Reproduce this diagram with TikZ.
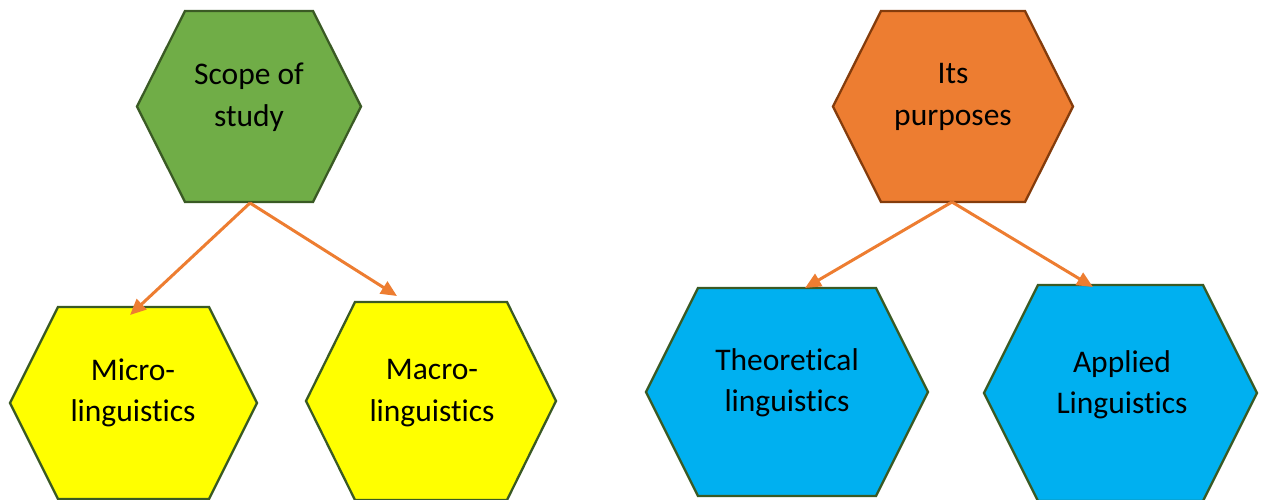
\documentclass[tikz,border=0pt]{standalone}
\usepackage{fontspec}
\setmainfont{Carlito}[RawFeature={-liga}]
\usetikzlibrary{arrows.meta}

\definecolor{leafgreen}{HTML}{70AD47}
\definecolor{leafedge}{HTML}{3A5A24}
\definecolor{tangerine}{HTML}{ED7D31}
\definecolor{rustedge}{HTML}{843C0C}
\definecolor{lemon}{HTML}{FFFF00}
\definecolor{skyblue}{HTML}{00B0F0}

\tikzset{
  hexedge/.style={line width=2.3pt, line join=miter},
  label/.style={align=center, font=\fontsize{31.5}{41.5}\selectfont, text=black, inner sep=0pt},
  link/.style={draw=tangerine, line width=3pt,
    -{Triangle[length=16pt,width=14pt]}},
}

% \hexa{style}{left x}{inset}{right x}{top y}{bottom y}
\newcommand\hexa[6]{%
  \path[#1] (#2,{(#5+#6)/2}) -- (#2+#3,#5) -- (#4-#3,#5) -- (#4,{(#5+#6)/2})
    -- (#4-#3,#6) -- (#2+#3,#6) -- cycle;}

\begin{document}
\begin{tikzpicture}[x=1pt,y=-1pt]
  \useasboundingbox (0,0) rectangle (1261,499);

  % hexagons
  \hexa{hexedge, fill=leafgreen, draw=leafedge}{137}{48}{361}{11}{202}
  \hexa{hexedge, fill=tangerine, draw=rustedge}{833}{48}{1073}{11}{202}
  \hexa{hexedge, fill=lemon, draw=leafedge}{10}{48}{257}{307}{499}
  \hexa{hexedge, fill=lemon, draw=leafedge}{306}{49}{556}{302}{500}
  \hexa{hexedge, fill=skyblue, draw=leafedge}{646}{52}{928}{288}{496}
  \hexa{hexedge, fill=skyblue, draw=leafedge}{984}{54}{1257}{285}{501}

  % labels
  \node[label] (scope)   at (249,97)  {Scope of\\study};
  \node[label] (purpose) at (953,97)  {Its\\purposes};
  \node[label] (micro)   at (133,393) {Micro-\\linguistics};
  \node[label] (macro)   at (432,393) {Macro-\\linguistics};
  \node[label] (theory)  at (787,383) {Theoretical\\linguistics};
  \node[label] (applied) at (1122,385) {Applied\\Linguistics};

  % connector ends
  \coordinate (scopeB)   at (250,203);
  \coordinate (purposeB) at (952,202);
  \coordinate (microT)   at (130,315);
  \coordinate (macroT)   at (397,296);
  \coordinate (theoryT)  at (805,288);
  \coordinate (appliedT) at (1093,287);

  % connectors
  \draw[link] (scopeB) -- (microT);
  \draw[link] (scopeB) -- (macroT);
  \draw[link] (purposeB) -- (theoryT);
  \draw[link] (purposeB) -- (appliedT);
\end{tikzpicture}
\end{document}
